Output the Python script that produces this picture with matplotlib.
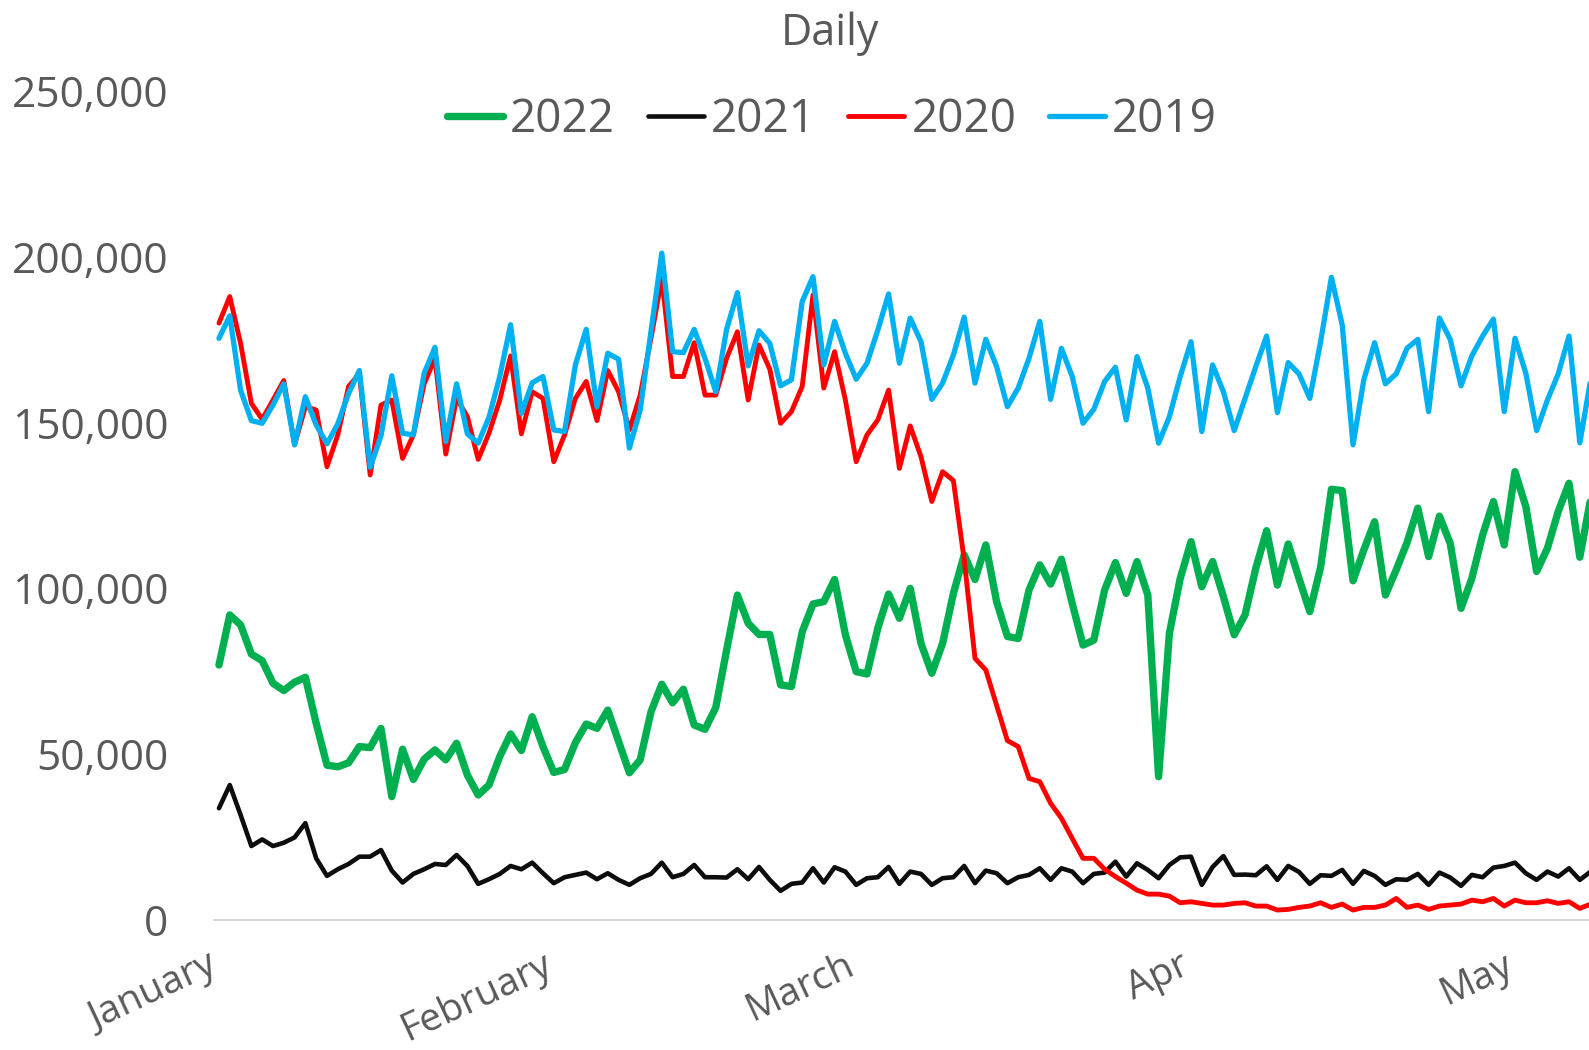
import matplotlib
matplotlib.use('Agg')
import matplotlib.pyplot as plt
from matplotlib.ticker import FuncFormatter
from matplotlib.transforms import ScaledTranslation

plt.rcParams['font.family'] = ['Open Sans', 'DejaVu Sans']

# x axis: day index from Jan 1, month labels at the first day of each month
months = ['January', 'February', 'March', 'Apr', 'May']
month_start = [0, 31, 59, 90, 120]

years = ['2022', '2021', '2020', '2019']

y2022 = [76900, 92000, 89000, 80200, 78200, 71400, 69200, 71700, 73200, 59300,
         46700, 46200, 47400, 52300, 52000, 57800, 37200, 51500, 42400, 48500,
         51300, 48300, 53300, 43700, 37700, 40700, 49300, 56100, 51100, 61300,
         52300, 44500, 45400, 53500, 59100, 57800, 63300, 53800, 44400, 48300,
         62800, 71100, 65500, 69600, 58800, 57500, 64100, 81400, 98000, 89500,
         86100, 86100, 70900, 70400, 86900, 95300, 96000, 102700, 86000, 74900,
         74200, 88000, 98300, 91000, 100000, 83400, 74400, 83400, 98500, 110100,
         102700, 113100, 96000, 85500, 84900, 99500, 107100, 101300, 108800, 95500,
         82900, 84400, 99500, 107800, 98500, 108100, 98000, 43200, 86500, 103000,
         114100, 100500, 108100, 97500, 86000, 92000, 106100, 117400, 101000, 113400,
         103000, 93000, 106400, 129900, 129500, 102300, 111600, 120100, 98000, 105600,
         113800, 124200, 109600, 121800, 113600, 94000, 103000, 116100, 126200, 113100,
         135200, 124700, 105100, 112100, 123200, 131700, 109400, 127000]

y2021 = [33700, 40700, 31700, 22300, 24300, 22300, 23300, 24900, 29200, 18600,
         13300, 15300, 16900, 19100, 19100, 21100, 14900, 11300, 13900, 15300,
         16900, 16600, 19600, 16300, 10900, 12300, 13900, 16300, 15300, 17300,
         14100, 11100, 12900, 13600, 14300, 12300, 14100, 12100, 10600, 12600,
         13900, 17300, 12900, 13900, 16600, 12900, 12900, 12800, 15300, 12300,
         16000, 12100, 8800, 10900, 11300, 15600, 11300, 15900, 14600, 10600,
         12600, 12900, 16000, 10900, 14600, 13900, 10600, 12600, 12900, 16300,
         11100, 14900, 14100, 11100, 12900, 13600, 15600, 12100, 15600, 14600,
         11100, 13900, 14300, 17600, 13100, 17100, 15100, 12600, 16600, 18900,
         19100, 10600, 16000, 19300, 13600, 13700, 13500, 16200, 12100, 16300,
         14500, 10900, 13500, 13300, 15100, 10900, 14800, 13300, 10600, 12300,
         12100, 13900, 10600, 14300, 12800, 10300, 13600, 12900, 15800, 16300,
         17300, 14100, 12100, 14600, 13100, 15600, 12100, 14600]

y2020 = [180000, 188000, 173900, 155800, 151000, 156800, 162700, 143300, 154800, 153800,
         136700, 146300, 160900, 164700, 134200, 155300, 156800, 139200, 146300, 161700,
         169400, 140500, 157300, 151800, 138900, 146800, 156800, 170100, 146600, 159300,
         157300, 138200, 146300, 157300, 162400, 150600, 165700, 159300, 147800, 158300,
         175400, 193500, 163900, 163900, 174100, 158300, 158300, 169400, 177400, 156800,
         173400, 166100, 149800, 153300, 160900, 188500, 160400, 171400, 156800, 138200,
         146300, 150800, 159800, 136200, 149000, 139700, 126200, 135200, 132500, 108600,
         78900, 75400, 64800, 54100, 52300, 42700, 41700, 35200, 30700, 24600,
         18600, 18600, 15300, 13100, 11100, 9000, 7800, 7800, 7200, 5200,
         5500, 5000, 4500, 4500, 5000, 5200, 4200, 4200, 3000, 3200,
         3800, 4200, 5200, 3800, 4800, 3000, 3800, 3800, 4500, 6500,
         3800, 4500, 3200, 4200, 4500, 4800, 6000, 5500, 6500, 4200,
         6000, 5200, 5200, 5800, 5000, 5500, 3500, 4800]

y2019 = [175400, 182200, 159800, 150600, 149800, 155300, 161700, 143300, 157800, 149300,
         143600, 149600, 158800, 165700, 136500, 146000, 164100, 146800, 146300, 164900,
         172700, 144300, 161700, 146600, 143800, 151600, 163900, 179500, 152800, 162000,
         163900, 147800, 147300, 167400, 178100, 154800, 170900, 169100, 142300, 153800,
         177400, 201100, 171400, 171100, 178100, 169400, 159300, 178100, 189200, 167100,
         177700, 173900, 161100, 162900, 186500, 194000, 167400, 180500, 170900, 163100,
         167900, 177900, 188800, 167900, 181500, 174400, 157000, 161900, 170400, 181800,
         161900, 175100, 166900, 154800, 160400, 169400, 180500, 157000, 172400, 163900,
         149800, 154000, 162400, 166700, 150800, 169900, 160400, 143800, 151800, 163900,
         174400, 147300, 167400, 159300, 147600, 157300, 166900, 176100, 153000, 168100,
         164700, 157300, 174400, 193800, 179500, 143300, 162900, 174100, 161700, 164700,
         172400, 175100, 153300, 181500, 175100, 161100, 170100, 176100, 181200, 153300,
         175400, 164900, 147600, 156800, 164700, 176100, 143900, 162900]

colors = ['#00B050', '#0D0D0D', '#FF0000', '#00B0F0']
widths = [5.3, 3.3, 3.5, 3.8]
grey = '#595959'

fig = plt.figure(figsize=(15.89, 10.5), dpi=100)
ax = fig.add_axes([214 / 1589, 1 - 920 / 1050, 1375 / 1589, 829 / 1050])

days = list(range(len(y2022)))
for name, vals, c, lw in zip(years, [y2022, y2021, y2020, y2019], colors, widths):
    ax.plot(days, vals, color=c, lw=lw, label=name,
            solid_joinstyle='round', solid_capstyle='round')

ax.set_xlim(-0.46, 126.85)
ax.set_ylim(0, 250000)
ax.set_yticks(range(0, 250001, 50000))
ax.yaxis.set_major_formatter(FuncFormatter(lambda v, p: f'{int(v):,}'))

for s in ['left', 'right', 'top']:
    ax.spines[s].set_visible(False)
ax.spines['bottom'].set_color('#D9D9D9')
ax.spines['bottom'].set_linewidth(1.5)

ax.tick_params(axis='y', length=0, pad=33, labelsize=30.5, labelcolor=grey)
ax.tick_params(axis='x', length=0, pad=19, labelsize=28, labelcolor=grey)
ax.set_xticks(month_start)
ax.set_xticklabels(months, rotation=25, ha='right', va='top', rotation_mode='anchor')
shift = ScaledTranslation(-0.12, 0, fig.dpi_scale_trans)
for lab in ax.get_xticklabels():
    lab.set_transform(lab.get_transform() + shift)

fig.text(830 / 1589, 1 - 45 / 1050, 'Daily', ha='center', va='baseline',
         fontsize=31, color=grey)

leg = fig.legend(loc='center', bbox_to_anchor=(832 / 1589, 1 - 120 / 1050), ncol=4,
                 frameon=False, fontsize=33, handlelength=1.22, handletextpad=0.15,
                 columnspacing=0.72, labelcolor=grey)

fig.savefig('out.png', dpi=100)
